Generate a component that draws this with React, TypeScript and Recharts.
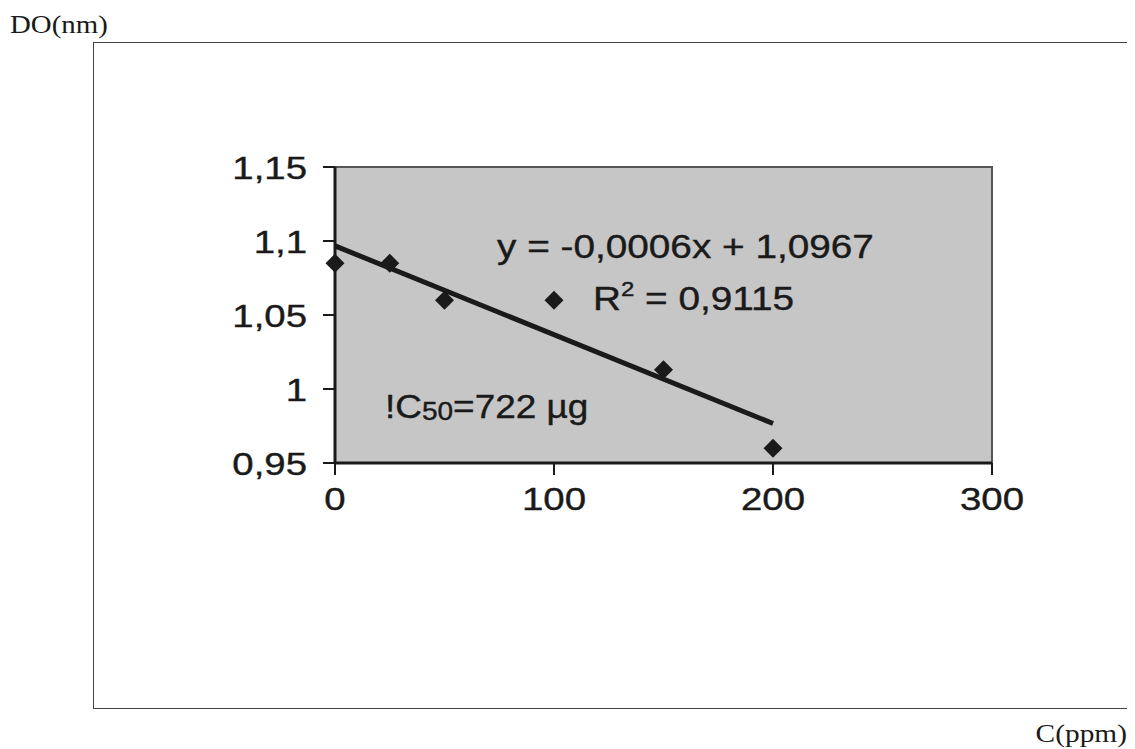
import React from "react";
import {
  ComposedChart,
  XAxis,
  YAxis,
  Scatter,
  Line,
  ReferenceArea,
} from "recharts";

// ---- data ----
const concentrations = [0, 25, 50, 100, 150, 200];
const absorbances = [1.085, 1.085, 1.06, 1.06, 1.013, 0.96];
const trendX = [0, 200];
const trendY = [1.0967, 0.9767];
const xTicks = [0, 100, 200, 300];
const xTickLabels = ["0", "100", "200", "300"];
const yTicks = [0.95, 1, 1.05, 1.1, 1.15];
const yTickLabels = ["0,95", "1", "1,05", "1,1", "1,15"];
const equationText = "y = -0,0006x + 1,0967";
const r2Value = "0,9115";
const ic50Value = "=722 µg";

const points = concentrations.map((x, i) => ({ x, y: absorbances[i] }));
const trend = trendX.map((x, i) => ({ x, y: trendY[i] }));

const SANS = "'Liberation Sans', Arial, sans-serif";
const SERIF = "'Liberation Serif', 'Times New Roman', serif";
const INK = "#1a1a1a";

const W = 1127;
const H = 741;

const Diamond = (props: any) => {
  const { cx, cy } = props;
  if (cx == null || cy == null) return null;
  const r = 9.5;
  return (
    <polygon
      points={`${cx},${cy - r} ${cx + r},${cy} ${cx},${cy + r} ${cx - r},${cy}`}
      fill={INK}
    />
  );
};

const YTick = (props: any) => {
  const { x, y, payload } = props;
  const idx = yTicks.findIndex((t) => Math.abs(t - payload.value) < 1e-9);
  const label = idx >= 0 ? yTickLabels[idx] : String(payload.value);
  return (
    <g transform={`translate(${x - 14},${y}) scale(1.2,1)`}>
      <text
        x={0}
        y={0}
        dy="0.36em"
        textAnchor="end"
        fontFamily={SANS}
        fontSize={32}
        fill={INK}
        stroke={INK}
        strokeWidth={0.4}
      >
        {label}
      </text>
    </g>
  );
};

const XTick = (props: any) => {
  const { x, y, payload } = props;
  const idx = xTicks.findIndex((t) => t === payload.value);
  const label = idx >= 0 ? xTickLabels[idx] : String(payload.value);
  return (
    <g transform={`translate(${x},${y + 33}) scale(1.2,1)`}>
      <text
        x={0}
        y={0}
        textAnchor="middle"
        fontFamily={SANS}
        fontSize={32}
        fill={INK}
        stroke={INK}
        strokeWidth={0.4}
      >
        {label}
      </text>
    </g>
  );
};

export default function App() {
  const yAxisWidth = 80;
  const xAxisHeight = 60;
  const plotLeft = 327;
  const plotTop = 159;
  const plotRight = 984;
  const plotBottom = 455;
  return (
    <div
      style={{
        position: "relative",
        width: W,
        height: H,
        overflow: "hidden",
        background: "#ffffff",
      }}
    >
      {/* outer frame */}
      <div
        style={{
          position: "absolute",
          left: 85,
          top: 34,
          width: 1200,
          height: 667,
          borderLeft: "1.5px solid #444",
          borderTop: "1.5px solid #444",
          borderBottom: "1.5px solid #444",
          boxSizing: "border-box",
        }}
      />
      <div style={{ position: "absolute", left: 0, top: 0 }}>
        <ComposedChart
          width={W}
          height={H}
          margin={{
            top: plotTop,
            right: W - plotRight,
            bottom: H - plotBottom - xAxisHeight,
            left: plotLeft - yAxisWidth,
          }}
        >
          <ReferenceArea
            x1={0}
            x2={300}
            y1={0.95}
            y2={1.15}
            fill="#c6c6c6"
            fillOpacity={1}
            stroke="#555"
            strokeWidth={2}
          />
          <XAxis
            type="number"
            dataKey="x"
            domain={[0, 300]}
            ticks={xTicks}
            height={xAxisHeight}
            tickSize={12}
            tickLine={{ stroke: INK, strokeWidth: 2 }}
            axisLine={{ stroke: INK, strokeWidth: 3 }}
            tick={<XTick />}
            interval={0}
          />
          <YAxis
            type="number"
            dataKey="y"
            domain={[0.95, 1.15]}
            ticks={yTicks}
            width={yAxisWidth}
            tickSize={12}
            tickLine={{ stroke: INK, strokeWidth: 2 }}
            axisLine={{ stroke: INK, strokeWidth: 3 }}
            tick={<YTick />}
            interval={0}
            allowDataOverflow
          />
          <Line
            data={trend}
            dataKey="y"
            type="linear"
            stroke={INK}
            strokeWidth={5}
            dot={false}
            activeDot={false}
            isAnimationActive={false}
          />
          <Scatter
            data={points}
            dataKey="y"
            fill={INK}
            shape={<Diamond />}
            isAnimationActive={false}
          />
        </ComposedChart>
      </div>
      {/* text overlay */}
      <svg
        width={W}
        height={H}
        style={{ position: "absolute", left: 0, top: 0, pointerEvents: "none" }}
      >
        <g transform="translate(2,25) scale(1.11,1)">
          <text fontFamily={SERIF} fontSize={26} fill={INK}>
            DO(nm)
          </text>
        </g>
        <g transform="translate(1119,734) scale(1.13,1)">
          <text fontFamily={SERIF} fontSize={26} fill={INK} textAnchor="end">
            C(ppm)
          </text>
        </g>
        <g transform="translate(489,250) scale(1.14,1)">
          <text fontFamily={SANS} fontSize={34} fill={INK} stroke={INK} strokeWidth={0.4}>
            {equationText}
          </text>
        </g>
        <g transform="translate(585,302) scale(1.14,1)">
          <text fontFamily={SANS} fontSize={34} fill={INK} stroke={INK} strokeWidth={0.4}>
            R
            <tspan fontSize={21} dy={-14}>
              2
            </tspan>
            <tspan dy={14}>{" = " + r2Value}</tspan>
          </text>
        </g>
        <g transform="translate(377,410) scale(1.12,1)">
          <text fontFamily={SANS} fontSize={33} fill={INK} stroke={INK} strokeWidth={0.4}>
            !C
            <tspan fontSize={25} dy={2}>
              50
            </tspan>
            <tspan dy={-2}>{ic50Value}</tspan>
          </text>
        </g>
      </svg>
    </div>
  );
}
